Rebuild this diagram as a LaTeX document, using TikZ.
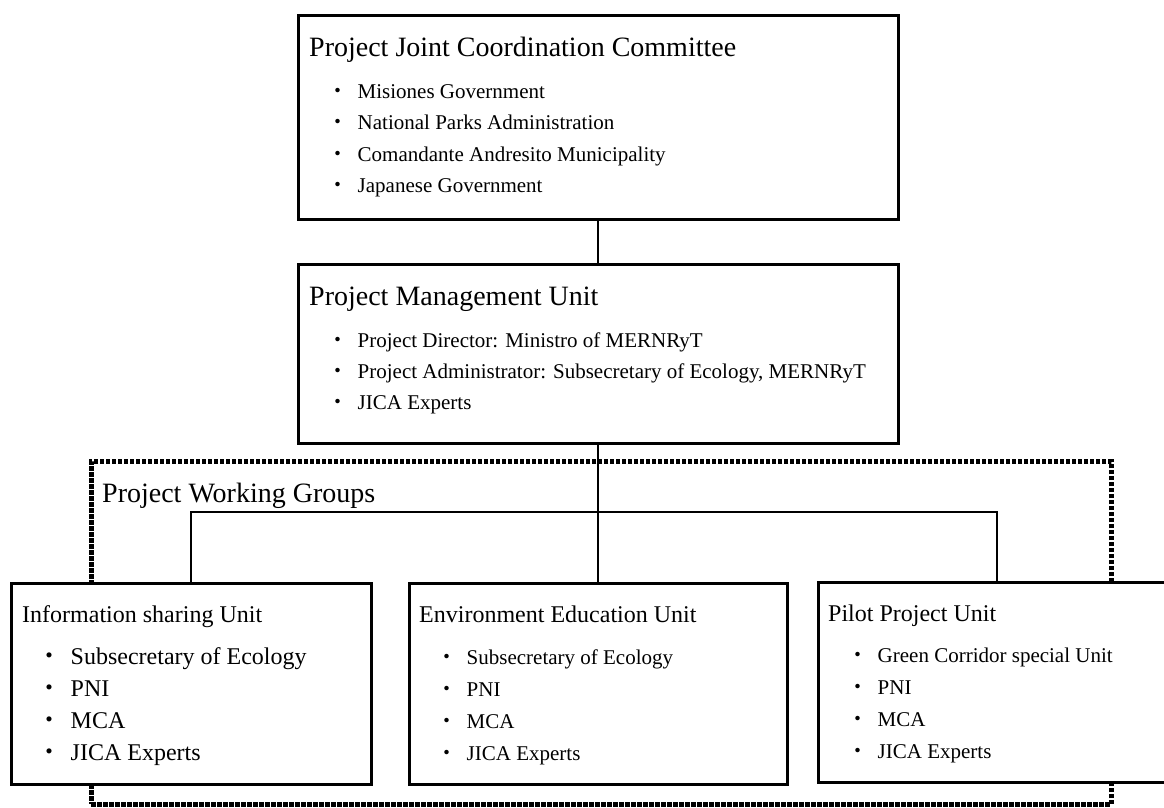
\documentclass[tikz,border=0pt]{standalone}
\usepackage{fontspec}
\setmainfont{Liberation Serif}
\newfontfamily\cjk{Noto Sans CJK JP}
\tikzset{
    box/.style={draw, fill=white, line width=2.5pt, inner sep=0pt, anchor=north west},
    group/.style={draw, line width=4.5pt, dash pattern=on 4.5pt off 1.5pt, inner sep=0pt, anchor=north west},
    link/.style={line width=1.8pt},
    ttl/.style={anchor=base west, inner sep=0pt, font=\fontsize{28}{30}\selectfont},
    utl/.style={anchor=base west, inner sep=0pt, font=\fontsize{24}{26}\selectfont},
    itm/.style={anchor=base west, inner sep=0pt, font=\fontsize{21}{23}\selectfont},
    bigitm/.style={anchor=base west, inner sep=0pt, font=\fontsize{24}{26}\selectfont}
}
\newcommand{\dotitem}[1]{{\cjk ・}\hspace{9.5pt}#1}
\begin{document}
\begin{tikzpicture}[x=1pt, y=-1pt]
    \useasboundingbox (0,0) rectangle (1164,807);

    % Draw working group frame
    \node[group, minimum width=1020pt, minimum height=343pt] (pwg) at (89,459) {};
    \node[ttl] (pwglabel) at (102,502) {Project Working Groups};

    % Draw boxes
    \node[box, minimum width=600pt, minimum height=204pt] (jcc) at (297,14) {};
    \node[box, minimum width=600pt, minimum height=179pt] (pmu) at (297,263) {};
    \node[box, minimum width=360pt, minimum height=201pt] (isu) at (10,582) {};
    \node[box, minimum width=378pt, minimum height=201pt] (eeu) at (408,582) {};
    \node[box, minimum width=358pt, minimum height=200pt] (ppu) at (817,581) {};

    % Draw texts
    \node[ttl] (jcctitle) at (309,56) {Project Joint Coordination Committee};
    \foreach \y/\t [count=\i] in {98/Misiones Government, 129.5/National Parks Administration,
        161/Comandante Andresito Municipality, 192.5/Japanese Government}
        \node[itm] (jcc\i) at (327,\y) {\dotitem{\t}};

    \node[ttl] (pmutitle) at (309,305.5) {Project Management Unit};
    \foreach \y/\t [count=\i] in {347/{Project Director: Ministro of MERNRyT},
        378.5/{Project Administrator: Subsecretary of Ecology, MERNRyT}, 409.5/JICA Experts}
        \node[itm] (pmu\i) at (327,\y) {\dotitem{\t}};

    \node[utl] (isutitle) at (22,622.5) {Information sharing Unit};
    \node[utl] (eeutitle) at (419,622.5) {Environment Education Unit};
    \node[utl] (pputitle) at (828,621.5) {Pilot Project Unit};
    \foreach \y/\a/\b [count=\i] in {664/Subsecretary of Ecology/Green Corridor special Unit,
        696/PNI/PNI, 728/MCA/MCA, 760/JICA Experts/JICA Experts} {
        \node[bigitm] (isu\i) at (37,\y) {\dotitem{\a}};
        \node[itm] (eeu\i) at (436,\y) {\dotitem{\a}};
        \node[itm] (ppu\i) at (847,\y-1.5) {\dotitem{\b}};
    }

    % Draw connectors
    \coordinate (hub) at (597,512);
    \draw[link] (jcc.south) -- (pmu.north);
    \draw[link] (pmu.south) -- (eeu.north);
    \draw[link] (isu.north) |- (hub) -| (ppu.north);
\end{tikzpicture}
\end{document}
